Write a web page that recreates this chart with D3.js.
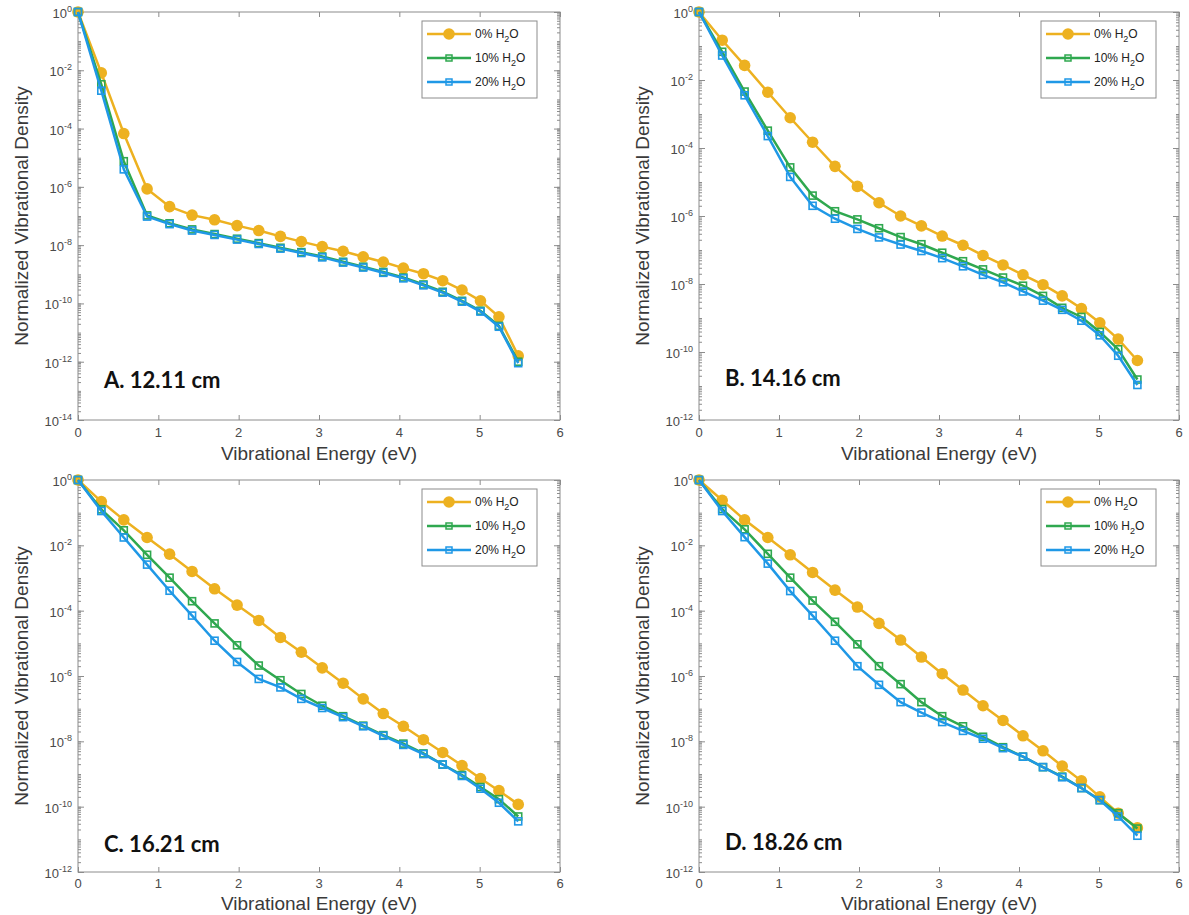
<!DOCTYPE html>
<html>
<head>
<meta charset="utf-8">
<script src="https://cdn.jsdelivr.net/npm/d3@7"></script>
<style>
  body { margin: 0; background: #fff; }
  svg { display: block; font-family: "Liberation Sans", Arial, sans-serif; }
  .axis path { display: none; }
  .axis line { stroke: #8c8c8c; stroke-width: 1; }
  .axis text { display: none; }
  .tick-lbl { fill: #4a4a4a; font-size: 13px; }
  .ax-title { fill: #3a3a3a; font-size: 19px; }
  .panel-lbl { fill: #111; font-family: Lato, "Open Sans", sans-serif; font-weight: 700; font-size: 22px; }
  .leg-text { fill: #222; font-size: 12px; }
</style>
</head>
<body>
<div id="chart"></div>
<script>
// vibrational energy of each level (eV)
const energy = [0, 0.29, 0.57, 0.86, 1.14, 1.42, 1.70, 1.98, 2.25, 2.52, 2.78,
  3.04, 3.30, 3.55, 3.80, 4.05, 4.30, 4.54, 4.78, 5.01, 5.24, 5.48];

// log10 of the normalized vibrational density
const a0 = [0, -2.09, -4.17, -6.07, -6.68, -6.97, -7.13, -7.33, -7.50, -7.70, -7.88,
  -8.05, -8.21, -8.40, -8.58, -8.79, -8.98, -9.22, -9.54, -9.91, -10.46, -11.80];
const a10 = [0, -2.48, -5.12, -6.98, -7.25, -7.46, -7.62, -7.78, -7.93, -8.09, -8.24,
  -8.39, -8.57, -8.74, -8.92, -9.11, -9.35, -9.60, -9.91, -10.25, -10.77, -12.00];
const a20 = [0, -2.70, -5.40, -7.02, -7.28, -7.50, -7.65, -7.81, -7.96, -8.12, -8.27,
  -8.42, -8.60, -8.77, -8.95, -9.14, -9.38, -9.63, -9.94, -10.28, -10.80, -12.05];

const b0 = [0, -0.83, -1.57, -2.36, -3.11, -3.83, -4.54, -5.13, -5.61, -6.00, -6.29,
  -6.59, -6.86, -7.16, -7.44, -7.73, -8.02, -8.35, -8.72, -9.14, -9.62, -10.25];
const b10 = [0, -1.17, -2.34, -3.49, -4.57, -5.40, -5.86, -6.10, -6.36, -6.62, -6.83,
  -7.08, -7.33, -7.57, -7.81, -8.05, -8.35, -8.70, -8.97, -9.41, -9.92, -10.81];
const b20 = [0, -1.28, -2.45, -3.65, -4.85, -5.70, -6.08, -6.38, -6.63, -6.84, -7.03,
  -7.24, -7.48, -7.73, -7.95, -8.22, -8.49, -8.76, -9.08, -9.51, -10.11, -10.97];

const c0 = [0, -0.66, -1.22, -1.76, -2.27, -2.80, -3.33, -3.83, -4.30, -4.82, -5.27,
  -5.75, -6.22, -6.70, -7.15, -7.54, -7.95, -8.34, -8.74, -9.14, -9.51, -9.93];
const c10 = [0, -0.90, -1.54, -2.29, -2.99, -3.71, -4.39, -5.06, -5.68, -6.13, -6.55,
  -6.91, -7.23, -7.52, -7.81, -8.07, -8.37, -8.71, -9.03, -9.40, -9.77, -10.30];
const c20 = [0, -0.95, -1.76, -2.59, -3.39, -4.15, -4.92, -5.57, -6.09, -6.35, -6.70,
  -6.98, -7.26, -7.54, -7.83, -8.11, -8.39, -8.71, -9.06, -9.45, -9.88, -10.45];

const d0 = [0, -0.62, -1.22, -1.76, -2.29, -2.83, -3.37, -3.89, -4.39, -4.90, -5.42,
  -5.93, -6.43, -6.91, -7.36, -7.83, -8.29, -8.76, -9.21, -9.70, -10.20, -10.65];
const d10 = [0, -0.89, -1.51, -2.26, -2.99, -3.69, -4.34, -5.03, -5.70, -6.25, -6.80,
  -7.23, -7.54, -7.86, -8.18, -8.47, -8.79, -9.08, -9.43, -9.80, -10.20, -10.67];
const d20 = [0, -0.95, -1.75, -2.56, -3.40, -4.15, -4.92, -5.70, -6.27, -6.80, -7.12,
  -7.41, -7.68, -7.92, -8.21, -8.47, -8.79, -9.10, -9.43, -9.80, -10.30, -10.89];

const seriesNames = ['0%', '10%', '20%'];
const panelTitles = ['A. 12.11 cm', 'B. 14.16 cm', 'C. 16.21 cm', 'D. 18.26 cm'];
const panelSeries = [[a0, a10, a20], [b0, b10, b20], [c0, c10, c20], [d0, d10, d20]];
const yBottomExp = [-14, -12, -12, -12];
const xTicks = [0, 1, 2, 3, 4, 5, 6];

// styles / layout
const colors = ['#edb120', '#2fa84f', '#1f98e6'];
const marker = ['circle', 'square', 'square'];
const frames = [
  { x0: 78, x1: 560, y0: 12, y1: 420, lblDy: 17, titleDy: 40, tagDy: 32 },
  { x0: 699, x1: 1179, y0: 12, y1: 420, lblDy: 17, titleDy: 40, tagDy: 34 },
  { x0: 78, x1: 560, y0: 480, y1: 872, lblDy: 16, titleDy: 38, tagDy: 20 },
  { x0: 699, x1: 1179, y0: 480, y1: 872, lblDy: 16, titleDy: 38, tagDy: 22 }
];

const svg = d3.select('#chart').append('svg')
  .attr('width', 1189).attr('height', 915);

frames.forEach((f, i) => {
  const x = d3.scaleLinear().domain([0, 6]).range([f.x0, f.x1]);
  const y = d3.scaleLog().domain([10 ** yBottomExp[i], 1]).range([f.y1, f.y0]);
  const g = svg.append('g').attr('class', 'panel');

  // box
  g.append('rect')
    .attr('x', f.x0).attr('y', f.y0)
    .attr('width', f.x1 - f.x0).attr('height', f.y1 - f.y0)
    .attr('fill', 'none').attr('stroke', '#8c8c8c');

  // x ticks (inward, top and bottom)
  g.append('g').attr('class', 'axis').attr('transform', `translate(0,${f.y1})`)
    .call(d3.axisBottom(x).tickValues(xTicks).tickSize(-5));
  g.append('g').attr('class', 'axis').attr('transform', `translate(0,${f.y0})`)
    .call(d3.axisTop(x).tickValues(xTicks).tickSize(-5));
  g.selectAll('text.xlbl').data(xTicks).enter()
    .append('text')
      .attr('class', 'tick-lbl xlbl')
      .attr('x', d => x(d))
      .attr('y', f.y1 + f.lblDy)
      .attr('text-anchor', 'middle')
      .text(d => d);

  // y ticks: labelled every 2 decades, minor ticks in between
  const majors = d3.range(0, yBottomExp[i] - 1, -2);
  const minors = [];
  for (let e = 0; e > yBottomExp[i]; e--) {
    for (let m = 1; m < 10; m++) minors.push(m * 10 ** (e - 1));
  }
  const majorVals = majors.map(e => 10 ** e);
  [['axisLeft', f.x0], ['axisRight', f.x1]].forEach(([fn, pos]) => {
    g.append('g').attr('class', 'axis').attr('transform', `translate(${pos},0)`)
      .call(d3[fn](y).tickValues(majorVals).tickSize(-6));
    g.append('g').attr('class', 'axis').attr('transform', `translate(${pos},0)`)
      .call(d3[fn](y).tickValues(minors).tickSize(-3));
  });
  const yl = g.selectAll('text.ylbl').data(majors).enter()
    .append('text')
      .attr('class', 'tick-lbl ylbl')
      .attr('x', f.x0 - 6)
      .attr('y', d => y(10 ** d) + 6)
      .attr('text-anchor', 'end');
  yl.append('tspan').text('10');
  yl.append('tspan').attr('dy', -6).attr('font-size', 9).text(d => d);

  // axis titles
  g.append('text').attr('class', 'ax-title')
    .attr('x', (f.x0 + f.x1) / 2).attr('y', f.y1 + f.titleDy)
    .attr('text-anchor', 'middle')
    .text('Vibrational Energy (eV)');
  g.append('text').attr('class', 'ax-title')
    .attr('transform', `translate(${f.x0 - 50},${(f.y0 + f.y1) / 2}) rotate(-90)`)
    .attr('text-anchor', 'middle')
    .text('Normalized Vibrational Density');

  // series
  const line = d3.line()
    .x((d, k) => x(energy[k]))
    .y(d => y(10 ** d));
  panelSeries[i].forEach((vals, s) => {
    const sg = g.append('g').attr('class', 'series');
    sg.append('path')
      .attr('d', line(vals))
      .attr('fill', 'none')
      .attr('stroke', colors[s])
      .attr('stroke-width', 2.5);
    if (marker[s] === 'circle') {
      sg.selectAll('circle').data(vals).enter()
        .append('circle')
          .attr('cx', (d, k) => x(energy[k]))
          .attr('cy', d => y(10 ** d))
          .attr('r', 5.8)
          .attr('fill', colors[s]);
    } else {
      sg.selectAll('rect').data(vals).enter()
        .append('rect')
          .attr('x', (d, k) => x(energy[k]) - 3.5)
          .attr('y', d => y(10 ** d) - 3.5)
          .attr('width', 7).attr('height', 7)
          .attr('fill', 'none')
          .attr('stroke', colors[s])
          .attr('stroke-width', 1.6);
    }
  });

  // panel label
  g.append('text').attr('class', 'panel-lbl')
    .attr('x', f.x0 + 26).attr('y', f.y1 - f.tagDy)
    .text(panelTitles[i]);

  // legend
  const lx = f.x1 - 138, ly = f.y0 + 9;
  const leg = g.append('g').attr('transform', `translate(${lx},${ly})`);
  leg.append('rect')
    .attr('width', 115).attr('height', 77)
    .attr('fill', '#fff').attr('stroke', '#8c8c8c');
  seriesNames.forEach((name, s) => {
    const cy = 13 + s * 24;
    leg.append('line')
      .attr('x1', 5).attr('x2', 49).attr('y1', cy).attr('y2', cy)
      .attr('stroke', colors[s]).attr('stroke-width', 2.5);
    if (marker[s] === 'circle') {
      leg.append('circle').attr('cx', 27).attr('cy', cy).attr('r', 5.8)
        .attr('fill', colors[s]);
    } else {
      leg.append('rect').attr('x', 24).attr('y', cy - 3).attr('width', 6).attr('height', 6)
        .attr('fill', 'none').attr('stroke', colors[s]).attr('stroke-width', 1.5);
    }
    const t = leg.append('text').attr('class', 'leg-text')
      .attr('x', 53).attr('y', cy + 4);
    t.append('tspan').text(name + ' H');
    t.append('tspan').attr('dy', 4).attr('font-size', 9).text('2');
    t.append('tspan').attr('dy', -4).text('O');
  });
});
</script>
</body>
</html>
